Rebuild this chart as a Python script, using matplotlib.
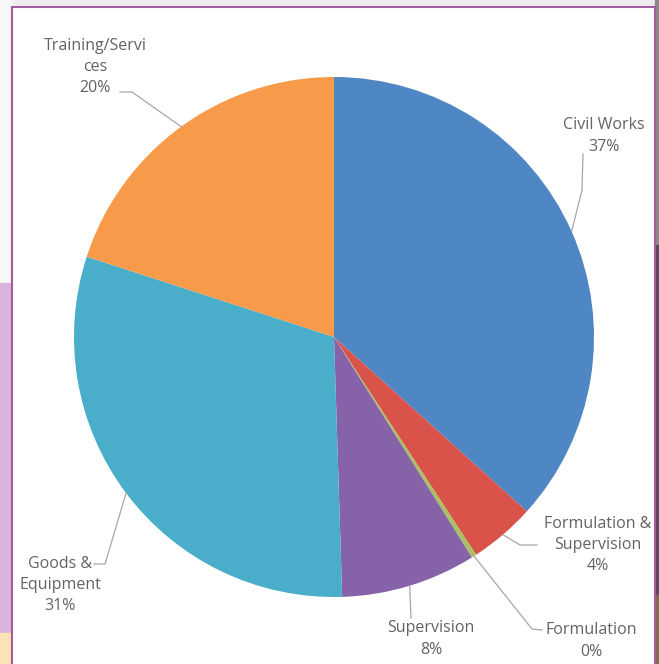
import matplotlib.pyplot as plt
from matplotlib.patches import Rectangle
import numpy as np

# data
categories = ['Civil Works', 'Formulation &\nSupervision', 'Formulation',
              'Supervision', 'Goods &\nEquipment', 'Training/Servi\nces']
shares = [36.7, 4.1, 0.3, 8.4, 30.5, 20.0]
pct_labels = ['37%', '4%', '0%', '8%', '31%', '20%']
colors = ['#4f86c4', '#d9534a', '#a8c060', '#8663a8', '#4aaecb', '#f79a4a']

# label layout (pixel coords, y down): text centre, elbow point, end point near text
label_xy = [(604, 136), (598, 545), (591, 641), (431, 639), (60, 585), (95, 67)]
elbow_xy = [(582, 190), (520, 545), (532, 629), (411, 617), (105, 564), (132, 92)]
end_xy = [(583, 154), (537, 545), (542, 630), (411, 618), (94, 564), (120, 92)]

W, H = 659, 664
cx, cy, r = 334, 337, 260


def fy(y):
    # flip pixel y (down) to axis y (up)
    return H - y


fig = plt.figure(figsize=(6.59, 6.64), dpi=100)
ax = fig.add_axes([0, 0, 1, 1])

# page background around the chart panel
ax.add_patch(Rectangle((0, 0), W, H, color='#eeeeee', zorder=0))
ax.add_patch(Rectangle((0, fy(283)), 12, 283, color='#f7f7f7', zorder=0))
ax.add_patch(Rectangle((0, fy(633)), 12, 350, color='#dab4da', zorder=0))
ax.add_patch(Rectangle((0, 0), 12, H - 633, color='#fce2b6', zorder=0))
ax.add_patch(Rectangle((655, fy(245)), 4, 245, color='#8a8a8a', zorder=0))
ax.add_patch(Rectangle((655, fy(595)), 4, 350, color='#5c4862', zorder=0))
ax.add_patch(Rectangle((655, 0), 4, H - 595, color='#7b6b52', zorder=0))
ax.add_patch(Rectangle((12, -5), 643, fy(7) + 5, facecolor='white',
                       edgecolor='#a35ca3', linewidth=1.5, zorder=1))

wedges, _ = ax.pie(shares, colors=colors, startangle=90, counterclock=False,
                   center=(cx, fy(cy)), radius=r, frame=True,
                   wedgeprops=dict(linewidth=0, zorder=2))
ax.set_xlim(0, W)
ax.set_ylim(0, H)
ax.set_aspect('auto')
ax.axis('off')

for w, name, pct, (tx, ty), (ex, ey), (nx, ny) in zip(
        wedges, categories, pct_labels, label_xy, elbow_xy, end_xy):
    mid = np.deg2rad((w.theta1 + w.theta2) / 2)
    px = cx + r * np.cos(mid)
    py = fy(cy) + r * np.sin(mid)
    ax.plot([px, ex, nx], [py, fy(ey), fy(ny)], color='#a6a6a6',
            linewidth=0.9, zorder=3)
    ax.text(tx, fy(ty), name + '\n' + pct, ha='center', va='center',
            fontsize=11.5, family='Open Sans', color='#636363', linespacing=1.45,
            zorder=4)

fig.savefig('out.png', dpi=100)
